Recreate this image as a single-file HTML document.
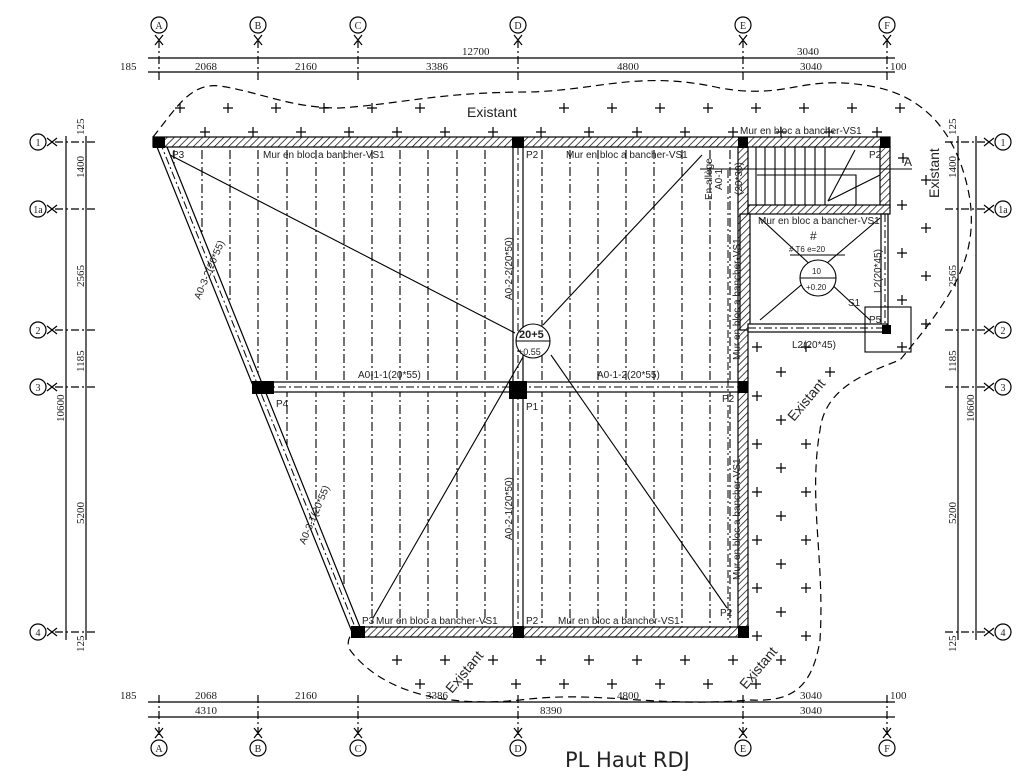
<!DOCTYPE html>
<html><head><meta charset="utf-8"><style>
html,body{margin:0;padding:0;background:#fff;}
svg{display:block;font-family:"Liberation Sans",sans-serif;}
.t{fill:#222;}
.s{font-family:"Liberation Serif",serif;fill:#222;}
</style></head><body>
<svg width="1023" height="771" viewBox="0 0 1023 771" xmlns="http://www.w3.org/2000/svg">
<defs>
<pattern id="h" width="5" height="5" patternUnits="userSpaceOnUse" patternTransform="rotate(45)">
<rect width="5" height="5" fill="#fff"/><line x1="0" y1="0" x2="0" y2="5" stroke="#000" stroke-width="1.4"/></pattern>
</defs>

<g stroke="#000" stroke-width="1.2" stroke-dasharray="8,3,2,3">
<line x1="159" y1="40" x2="159" y2="80"/><line x1="258" y1="40" x2="258" y2="80"/><line x1="358" y1="40" x2="358" y2="80"/><line x1="518" y1="40" x2="518" y2="80"/><line x1="743" y1="40" x2="743" y2="80"/><line x1="887" y1="40" x2="887" y2="80"/>
<line x1="159" y1="695" x2="159" y2="735"/><line x1="258" y1="695" x2="258" y2="735"/><line x1="358" y1="695" x2="358" y2="735"/><line x1="518" y1="695" x2="518" y2="735"/><line x1="743" y1="695" x2="743" y2="735"/><line x1="887" y1="695" x2="887" y2="735"/>
<line x1="55" y1="142" x2="95" y2="142"/><line x1="55" y1="209" x2="95" y2="209"/><line x1="55" y1="330" x2="95" y2="330"/><line x1="55" y1="387" x2="95" y2="387"/><line x1="55" y1="632" x2="95" y2="632"/>
<line x1="945" y1="142" x2="990" y2="142"/><line x1="945" y1="209" x2="990" y2="209"/><line x1="945" y1="330" x2="990" y2="330"/><line x1="945" y1="387" x2="990" y2="387"/><line x1="945" y1="632" x2="990" y2="632"/>
</g>
<g stroke="#000" stroke-width="1.2" fill="none">
<path d="M155,35l8,10M163,35l-8,10 M254,35l8,10M262,35l-8,10 M354,35l8,10M362,35l-8,10 M514,35l8,10M522,35l-8,10 M739,35l8,10M747,35l-8,10 M883,35l8,10M891,35l-8,10"/>
<path d="M155,738l8,-10M163,738l-8,-10 M254,738l8,-10M262,738l-8,-10 M354,738l8,-10M362,738l-8,-10 M514,738l8,-10M522,738l-8,-10 M739,738l8,-10M747,738l-8,-10 M883,738l8,-10M891,738l-8,-10"/>
<path d="M47,138l10,8M47,146l10,-8 M47,205l10,8M47,213l10,-8 M47,326l10,8M47,334l10,-8 M47,383l10,8M47,391l10,-8 M47,628l10,8M47,636l10,-8"/>
<path d="M994,138l-10,8M994,146l-10,-8 M994,205l-10,8M994,213l-10,-8 M994,326l-10,8M994,334l-10,-8 M994,383l-10,8M994,391l-10,-8 M994,628l-10,8M994,636l-10,-8"/>
</g>

<g stroke="#000" stroke-width="1.2">
<line x1="148" y1="58" x2="895" y2="58"/><line x1="148" y1="72" x2="895" y2="72"/>
<line x1="148" y1="702" x2="895" y2="702"/><line x1="148" y1="717" x2="895" y2="717"/>
<line x1="66" y1="136" x2="66" y2="640"/><line x1="86" y1="136" x2="86" y2="640"/>
<line x1="958" y1="136" x2="958" y2="640"/><line x1="976" y1="136" x2="976" y2="640"/>
</g>
<g class="s" font-size="11">
<text x="462" y="55">12700</text><text x="797" y="55">3040</text>
<text x="120" y="70">185</text><text x="195" y="70">2068</text><text x="295" y="70">2160</text><text x="426" y="70">3386</text><text x="617" y="70">4800</text><text x="800" y="70">3040</text><text x="890" y="70">100</text>
<text x="120" y="699">185</text><text x="195" y="699">2068</text><text x="295" y="699">2160</text><text x="426" y="699">3386</text><text x="617" y="699">4800</text><text x="800" y="699">3040</text><text x="890" y="699">100</text>
<text x="195" y="714">4310</text><text x="540" y="714">8390</text><text x="800" y="714">3040</text>
<text transform="translate(84,178) rotate(-90)">1400</text>
<text transform="translate(84,287) rotate(-90)">2565</text>
<text transform="translate(84,372) rotate(-90)">1185</text>
<text transform="translate(84,524) rotate(-90)">5200</text>
<text transform="translate(84,135) rotate(-90)">125</text>
<text transform="translate(84,652) rotate(-90)">125</text>
<text transform="translate(64,422) rotate(-90)">10600</text>
<text transform="translate(956,178) rotate(-90)">1400</text>
<text transform="translate(956,287) rotate(-90)">2565</text>
<text transform="translate(956,372) rotate(-90)">1185</text>
<text transform="translate(956,524) rotate(-90)">5200</text>
<text transform="translate(956,135) rotate(-90)">125</text>
<text transform="translate(956,652) rotate(-90)">125</text>
<text transform="translate(974,422) rotate(-90)">10600</text>
</g>

<g stroke="#000" fill="#fff" stroke-width="1.2">
<circle cx="159" cy="25" r="8"/><circle cx="258" cy="25" r="8"/><circle cx="358" cy="25" r="8"/><circle cx="518" cy="25" r="8"/><circle cx="743" cy="25" r="8"/><circle cx="887" cy="25" r="8"/>
<circle cx="159" cy="748" r="8"/><circle cx="258" cy="748" r="8"/><circle cx="358" cy="748" r="8"/><circle cx="518" cy="748" r="8"/><circle cx="743" cy="748" r="8"/><circle cx="887" cy="748" r="8"/>
<circle cx="38" cy="142" r="8"/><circle cx="38" cy="209" r="8"/><circle cx="38" cy="330" r="8"/><circle cx="38" cy="387" r="8"/><circle cx="38" cy="632" r="8"/>
<circle cx="1003" cy="142" r="8"/><circle cx="1003" cy="209" r="8"/><circle cx="1003" cy="330" r="8"/><circle cx="1003" cy="387" r="8"/><circle cx="1003" cy="632" r="8"/>
</g>
<g class="s" text-anchor="middle" font-size="10">
<text x="159" y="29">A</text><text x="258" y="29">B</text><text x="358" y="29">C</text><text x="518" y="29">D</text><text x="743" y="29">E</text><text x="887" y="29">F</text>
<text x="159" y="752">A</text><text x="258" y="752">B</text><text x="358" y="752">C</text><text x="518" y="752">D</text><text x="743" y="752">E</text><text x="887" y="752">F</text>
<text x="38" y="146">1</text><text x="38" y="213">1a</text><text x="38" y="334">2</text><text x="38" y="391">3</text><text x="38" y="636">4</text>
<text x="1003" y="146">1</text><text x="1003" y="213">1a</text><text x="1003" y="334">2</text><text x="1003" y="391">3</text><text x="1003" y="636">4</text>
</g>

<g stroke="#000" stroke-width="1.1" stroke-dasharray="9,3,2,3">
<line x1="174" y1="150" x2="174" y2="180"/>
<line x1="202" y1="150" x2="202" y2="250"/><line x1="230" y1="150" x2="230" y2="320"/><line x1="258" y1="150" x2="258" y2="380"/>
<line x1="287" y1="150" x2="287" y2="627"/><line x1="316" y1="150" x2="316" y2="627"/><line x1="344" y1="150" x2="344" y2="627"/><line x1="372" y1="150" x2="372" y2="627"/><line x1="400" y1="150" x2="400" y2="627"/><line x1="428" y1="150" x2="428" y2="627"/><line x1="457" y1="150" x2="457" y2="627"/><line x1="485" y1="150" x2="485" y2="627"/>
<line x1="542" y1="150" x2="542" y2="627"/><line x1="570" y1="150" x2="570" y2="627"/><line x1="598" y1="150" x2="598" y2="627"/><line x1="626" y1="150" x2="626" y2="627"/><line x1="654" y1="150" x2="654" y2="627"/><line x1="682" y1="150" x2="682" y2="627"/><line x1="710" y1="150" x2="710" y2="627"/>
<line x1="730" y1="150" x2="730" y2="627"/>
</g>
<polygon points="150,147 157,147 352,627 150,627" fill="#fff"/>

<g stroke="#000" fill="#fff" stroke-width="1.2">
<rect x="262" y="382" width="481" height="10"/>
<rect x="513" y="147" width="10" height="480"/>
<polygon points="155,142 165,142 362,632 352,632"/>
</g>
<g stroke="#000" stroke-width="1" stroke-dasharray="8,3,2,3">
<line x1="262" y1="387" x2="743" y2="387"/><line x1="518" y1="147" x2="518" y2="627"/><line x1="160" y1="142" x2="357" y2="632"/>
</g>

<g stroke="#000" stroke-width="1.2">
<rect x="153" y="137" width="737" height="10" fill="url(#h)"/>
<rect x="357" y="627" width="391" height="10" fill="url(#h)"/>
<rect x="738" y="147" width="10" height="480" fill="url(#h)"/>
<rect x="880" y="147" width="10" height="60" fill="url(#h)"/>
<rect x="748" y="205" width="142" height="9" fill="url(#h)"/>
<rect x="740" y="214" width="10" height="116" fill="url(#h)"/>
<rect x="881" y="214" width="7" height="116" fill="#fff"/>
<rect x="748" y="324" width="139" height="8" fill="#fff"/>
</g>
<g fill="#000">
<rect x="153" y="137" width="12" height="11"/><rect x="512" y="137" width="12" height="11"/><rect x="880" y="137" width="10" height="11"/><rect x="738" y="137" width="10" height="11"/>
<rect x="252" y="381" width="22" height="13"/><rect x="509" y="381" width="18" height="18"/><rect x="738" y="381" width="10" height="12"/>
<rect x="351" y="626" width="14" height="12"/><rect x="513" y="626" width="11" height="12"/><rect x="738" y="626" width="11" height="12"/>
<rect x="882" y="325" width="9" height="9"/>
</g>
<g stroke="#000" stroke-width="1.1" fill="none">
<line x1="756" y1="147" x2="756" y2="205"/><line x1="765" y1="147" x2="765" y2="205"/><line x1="775" y1="147" x2="775" y2="205"/><line x1="785" y1="147" x2="785" y2="205"/><line x1="795" y1="147" x2="795" y2="205"/><line x1="805" y1="147" x2="805" y2="205"/><line x1="815" y1="147" x2="815" y2="205"/><line x1="825" y1="147" x2="825" y2="205"/>
<line x1="700" y1="169" x2="912" y2="169"/><polyline points="757,175 856,175 856,205"/>
<line x1="828" y1="201" x2="855" y2="150"/><line x1="828" y1="201" x2="880" y2="175"/>
<rect x="865" y="307" width="46" height="45"/>
<line x1="760" y1="320" x2="880" y2="218"/><line x1="760" y1="218" x2="870" y2="320"/>
<circle cx="818" cy="278" r="18" fill="#fff"/><line x1="800" y1="278" x2="836" y2="278"/>
<line x1="790" y1="255" x2="845" y2="255"/>
<line x1="170" y1="155" x2="515" y2="333"/><line x1="551" y1="355" x2="727" y2="608"/>
<line x1="373" y1="618" x2="523" y2="357"/><line x1="543" y1="325" x2="702" y2="155"/>
<circle cx="533" cy="341" r="17" fill="#fff"/><line x1="516" y1="341" x2="550" y2="341"/>
</g>
<g stroke="#000" stroke-width="1" stroke-dasharray="8,3,2,3"><line x1="748" y1="328" x2="885" y2="328"/><line x1="885" y1="214" x2="885" y2="328"/><line x1="728" y1="170" x2="728" y2="620"/></g>

<path d="M153,137 C175,110 190,82 220,86 C260,92 290,108 340,108 C400,104 440,92 530,92 C600,90 640,70 720,88 C790,100 800,74 870,86 C930,96 960,140 970,200 C978,260 950,300 900,360 C860,375 825,390 820,430 C808,500 825,560 820,640 C812,690 790,702 750,700 C650,708 600,690 520,700 C440,708 380,690 350,650 C345,640 352,635 352,632" fill="none" stroke="#000" stroke-dasharray="8,5" stroke-width="1.2"/>

<g stroke="#000" stroke-width="1.2">
<path d="M175,108h10m-5,-5v10 M223,108h10m-5,-5v10 M271,108h10m-5,-5v10 M319,108h10m-5,-5v10 M367,108h10m-5,-5v10 M415,108h10m-5,-5v10 M559,108h10m-5,-5v10 M607,108h10m-5,-5v10 M655,108h10m-5,-5v10 M703,108h10m-5,-5v10 M751,108h10m-5,-5v10 M799,108h10m-5,-5v10 M847,108h10m-5,-5v10 M895,108h10m-5,-5v10"/>
<path d="M200,132h10m-5,-5v10 M248,132h10m-5,-5v10 M296,132h10m-5,-5v10 M344,132h10m-5,-5v10 M392,132h10m-5,-5v10 M440,132h10m-5,-5v10 M488,132h10m-5,-5v10 M536,132h10m-5,-5v10 M584,132h10m-5,-5v10 M632,132h10m-5,-5v10 M680,132h10m-5,-5v10 M728,132h10m-5,-5v10 M776,132h10m-5,-5v10 M824,132h10m-5,-5v10 M872,132h10m-5,-5v10"/>
<path d="M392,660h10m-5,-5v10 M440,660h10m-5,-5v10 M488,660h10m-5,-5v10 M536,660h10m-5,-5v10 M584,660h10m-5,-5v10 M632,660h10m-5,-5v10 M680,660h10m-5,-5v10 M728,660h10m-5,-5v10 M776,660h10m-5,-5v10"/>
<path d="M415,684h10m-5,-5v10 M463,684h10m-5,-5v10 M511,684h10m-5,-5v10 M559,684h10m-5,-5v10 M607,684h10m-5,-5v10 M655,684h10m-5,-5v10 M703,684h10m-5,-5v10 M751,684h10m-5,-5v10"/>
<path d="M752,347h10m-5,-5v10 M752,396h10m-5,-5v10 M752,444h10m-5,-5v10 M752,492h10m-5,-5v10 M752,540h10m-5,-5v10 M752,588h10m-5,-5v10 M752,636h10m-5,-5v10"/>
<path d="M776,372h10m-5,-5v10 M776,420h10m-5,-5v10 M776,468h10m-5,-5v10 M776,516h10m-5,-5v10 M776,564h10m-5,-5v10 M776,612h10m-5,-5v10"/>
<path d="M801,347h10m-5,-5v10 M801,444h10m-5,-5v10 M801,492h10m-5,-5v10 M801,540h10m-5,-5v10 M801,588h10m-5,-5v10 M801,636h10m-5,-5v10 M825,372h10m-5,-5v10"/>
<path d="M897,347h10m-5,-5v10 M897,300h10m-5,-5v10 M897,253h10m-5,-5v10 M897,205h10m-5,-5v10 M921,324h10m-5,-5v10 M921,276h10m-5,-5v10 M921,228h10m-5,-5v10 M921,180h10m-5,-5v10 M898,158h10m-5,-5v10"/>
</g>

<g class="t" font-size="10">
<text x="263" y="158">Mur en bloc a bancher-VS1</text>
<text x="566" y="158">Mur en bloc a bancher-VS1</text>
<text x="740" y="134">Mur en bloc a bancher-VS1</text>
<text x="758" y="224">Mur en bloc a bancher-VS1</text>
<text x="376" y="624">Mur en bloc a bancher-VS1</text>
<text x="558" y="624">Mur en bloc a bancher-VS1</text>
<text x="172" y="158">P3</text><text x="526" y="158">P2</text><text x="869" y="158">P2</text>
<text x="276" y="407">P4</text><text x="526" y="410">P1</text><text x="722" y="402">P2</text>
<text x="362" y="624">P3</text><text x="526" y="624">P2</text><text x="720" y="616">P2</text>
<text x="869" y="323">P5</text><text x="848" y="306">S1</text>
<text x="358" y="378">A0-1-1(20*55)</text><text x="597" y="378">A0-1-2(20*55)</text>
<text x="792" y="348">L2(20*45)</text>
<text x="789" y="252" font-size="8"># T6 e=20</text>
<text x="810" y="240" font-size="12">#</text>
<text x="812" y="274" font-size="8">10</text><text x="806" y="290" font-size="8">+0.20</text>
<text x="519" y="338" font-size="11" font-weight="bold">20+5</text><text x="518" y="355" font-size="9">+0.55</text>
<text transform="translate(512,300) rotate(-90)">A0-2-2(20*50)</text>
<text transform="translate(512,540) rotate(-90)">A0-2-1(20*50)</text>
<text transform="translate(200,300) rotate(-67)">A0-3-2(20*55)</text>
<text transform="translate(305,545) rotate(-67)">A0-3-1(20*55)</text>
<text transform="translate(740,360) rotate(-90)">Mur en bloc a bancher-VS1</text>
<text transform="translate(740,580) rotate(-90)">Mur en bloc a bancher-VS1</text>
<text transform="translate(712,200) rotate(-90)">En allège</text>
<text transform="translate(722,190) rotate(-90)">A0-1</text>
<text transform="translate(742,195) rotate(-90)">(20*30)</text>
<text transform="translate(881,293) rotate(-90)">L2(20*45)</text>
<text x="904" y="166" font-size="12">A</text>
</g>
<g class="t" font-size="14">
<text x="467" y="117">Existant</text>
<text transform="translate(794,422) rotate(-50)">Existant</text>
<text transform="translate(452,694) rotate(-50)">Existant</text>
<text transform="translate(746,690) rotate(-50)">Existant</text>
<text transform="translate(939,198) rotate(-90)">Existant</text>
</g>
<text x="565" y="767" font-family="DejaVu Sans,sans-serif" font-size="21" fill="#222">PL  Haut  RDJ</text>
</svg>
</body></html>
